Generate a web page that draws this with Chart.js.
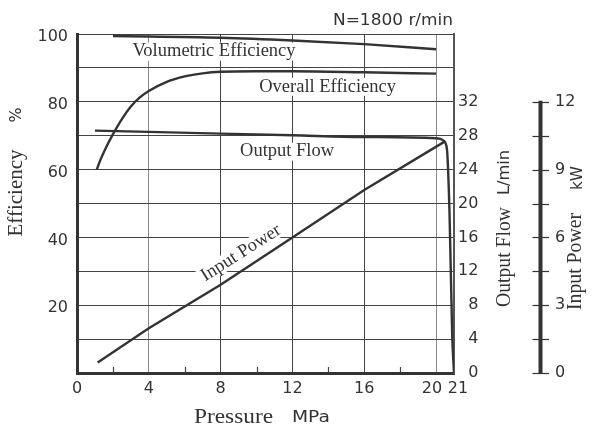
<!DOCTYPE html>
<html><head><meta charset="utf-8">
<script src="https://cdn.jsdelivr.net/npm/chart.js@4.4.0/dist/chart.umd.min.js"></script>
<style>html,body{margin:0;padding:0;background:#fff;}#wrap{width:592px;height:427px;}</style>
</head><body><div id="wrap"><canvas id="c" width="592" height="427"></canvas></div>
<script>
// ---- tick labels ----
const pressureTicks = [0, 4, 8, 12, 16, 20, 21];
const pressureMinorTicks = [2, 6, 10, 14, 18];
const efficiencyTicks = [20, 40, 60, 80, 100];
const flowTicks = [0, 4, 8, 12, 16, 20, 24, 28, 32];
const powerTicks = [0, 3, 6, 9, 12];
const powerMinorTicks = [1.5, 4.5, 7.5, 10.5];

// ---- series (x = pressure MPa) ----
const volPressure   = [2, 8, 12, 16, 20];
const volEfficiency = [99.4, 98.9, 98.1, 97.0, 95.5];

const overallPressure   = [1.1, 1.3, 1.5, 1.75, 2, 2.5, 3, 3.5, 4, 5, 6, 7, 8, 10, 12, 16, 20];
const overallEfficiency = [60, 62.8, 65.2, 67.9, 70.4, 74.9, 78.6, 81.3, 83.2, 85.9, 87.5, 88.4, 88.85, 89.0, 89.0, 88.7, 88.3];

const flowPressure = [1, 4, 8, 12, 16, 20, 20.4, 20.55, 20.63, 20.75, 20.9, 21];
const outputFlow   = [28.6, 28.45, 28.25, 28.05, 27.85, 27.7, 27.45, 27.0, 25.8, 18.9, 4.5, 0];

const powerPressure = [1.15, 4, 8, 12, 16, 20.5];
const inputPower    = [0.47, 1.98, 3.9, 6.0, 8.1, 10.25];

// ---- texts ----
const curveLabels = [
  {text: 'Volumetric Efficiency', x: 7.63, y: 94.8},
  {text: 'Overall Efficiency',    x: 13.96, y: 84.4},
  {text: 'Output Flow',           x: 11.7, y: 65.3},
];
const powerLabel = {text: 'Input Power', x: 9.14, y: 35.4};
const speedNote = 'N=1800 r/min';

const toXY = (xs, ys) => xs.map((v, i) => ({x: v, y: ys[i]}));
const INK = '#333';
const SERIF = '"Liberation Serif", "Times New Roman", serif';
const SANS = '"DejaVu Sans", sans-serif';

function fitText(ctx, text, font, cx, cy, width, angle) {
  ctx.save();
  ctx.font = font;
  ctx.textAlign = 'center';
  ctx.textBaseline = 'middle';
  ctx.fillStyle = INK;
  const w = ctx.measureText(text).width;
  ctx.translate(cx, cy);
  ctx.rotate(angle || 0);
  ctx.scale(width / w, 1);
  ctx.fillText(text, 0, 0);
  ctx.restore();
}

const extras = {
  id: 'extras',
  beforeDatasetsDraw(chart) {
    const ctx = chart.ctx;
    const {x, y, yPower} = chart.scales;
    ctx.save();
    // minor ticks on pressure axis
    ctx.strokeStyle = '#444';
    ctx.lineWidth = 1.2;
    pressureMinorTicks.forEach(v => {
      const px = Math.round(x.getPixelForValue(v)) + 0.5;
      ctx.beginPath(); ctx.moveTo(px, y.bottom); ctx.lineTo(px, y.bottom - 6); ctx.stroke();
    });
    // input power axis
    const ax = yPower.left + 9.5;
    ctx.strokeStyle = '#333';
    ctx.lineWidth = 4;
    ctx.beginPath();
    ctx.moveTo(ax, yPower.getPixelForValue(0) + 1);
    ctx.lineTo(ax, yPower.getPixelForValue(12) - 1);
    ctx.stroke();
    ctx.lineWidth = 1.2;
    powerTicks.concat(powerMinorTicks).forEach(v => {
      const py = Math.round(yPower.getPixelForValue(v)) + 0.5;
      ctx.beginPath(); ctx.moveTo(ax - 8, py); ctx.lineTo(ax + 8.5, py); ctx.stroke();
    });
    // curve labels with white background
    ctx.font = '18.5px ' + SERIF;
    ctx.textAlign = 'center';
    ctx.textBaseline = 'middle';
    curveLabels.forEach(l => {
      const cx = x.getPixelForValue(l.x), cy = y.getPixelForValue(l.y);
      const w = ctx.measureText(l.text).width;
      ctx.fillStyle = '#fff';
      ctx.fillRect(cx - w / 2 - 3, cy - 9, w + 6, 18);
      ctx.fillStyle = INK;
      ctx.fillText(l.text, cx, cy);
    });
    // rotated Input Power label, parallel to the power line
    const p0 = {x: x.getPixelForValue(powerPressure[0]), y: yPower.getPixelForValue(inputPower[0])};
    const n = powerPressure.length - 1;
    const p1 = {x: x.getPixelForValue(powerPressure[n]), y: yPower.getPixelForValue(inputPower[n])};
    const ang = Math.atan2(p1.y - p0.y, p1.x - p0.x);
    const cx = x.getPixelForValue(powerLabel.x), cy = y.getPixelForValue(powerLabel.y);
    ctx.translate(cx, cy);
    ctx.rotate(ang);
    const w = ctx.measureText(powerLabel.text).width;
    ctx.fillStyle = '#fff';
    ctx.fillRect(-w / 2 - 3, -9, w + 6, 17);
    ctx.fillStyle = INK;
    ctx.fillText(powerLabel.text, 0, 0);
    ctx.restore();
  },
  afterDraw(chart) {
    const ctx = chart.ctx;
    const R = -Math.PI / 2;
    fitText(ctx, speedNote, '16px ' + SANS, 393, 20.5, 120, 0);
    fitText(ctx, 'Efficiency', '20px ' + SERIF, 16.5, 193, 87, R);
    fitText(ctx, '%', '16px ' + SANS, 16.5, 115, 15, R);
    fitText(ctx, 'Pressure', '21px ' + SERIF, 233.5, 417.5, 79, 0);
    fitText(ctx, 'MPa', '16px ' + SANS, 311, 417.5, 38, 0);
    fitText(ctx, 'Output Flow', '20px ' + SERIF, 504.5, 257, 100, R);
    fitText(ctx, 'L/min', '16px ' + SANS, 505, 172.5, 45, R);
    fitText(ctx, 'Input Power', '20px ' + SERIF, 576, 261.5, 97, R);
    fitText(ctx, 'kW', '16px ' + SANS, 578, 178, 24, R);
  }
};

const lineStyle = {borderColor: '#333', borderWidth: 2.4, pointRadius: 0, fill: false, cubicInterpolationMode: 'monotone'};
const tickFont = {family: SANS, size: 16};

new Chart(document.getElementById('c'), {
  type: 'line',
  data: {
    datasets: [
      Object.assign({label: 'Volumetric Efficiency', data: toXY(volPressure, volEfficiency), yAxisID: 'y'}, lineStyle),
      Object.assign({label: 'Overall Efficiency', data: toXY(overallPressure, overallEfficiency), yAxisID: 'y'}, lineStyle),
      Object.assign({label: 'Output Flow', data: toXY(flowPressure, outputFlow), yAxisID: 'yFlow'}, lineStyle),
      Object.assign({label: 'Input Power', data: toXY(powerPressure, inputPower), yAxisID: 'yPower'}, lineStyle, {cubicInterpolationMode: 'default', tension: 0})
    ]
  },
  options: {
    responsive: false,
    animation: false,
    devicePixelRatio: 1,
    layout: {padding: {top: 34, right: 0, bottom: 0, left: 0}},
    plugins: {legend: {display: false}, tooltip: {enabled: false}},
    scales: {
      x: {
        type: 'linear', min: 0, max: 21,
        afterBuildTicks: s => { s.ticks = pressureTicks.map(v => ({value: v})); },
        afterFit: s => { s.height = 54; },
        ticks: {
          autoSkip: false, maxRotation: 0, padding: 6, font: tickFont, color: INK,
          callback: v => v === 20 ? '20\u2002' : (v === 21 ? '\u200221' : String(v))
        },
        grid: {
          drawTicks: false,
          color: c => { const v = c.tick ? c.tick.value : null; if (v === 0) return 'rgba(0,0,0,0)'; if (v === 4 || v === 20) return '#8a8a8a'; return '#444'; },
          lineWidth: c => (c.tick && c.tick.value === 21) ? 2 : 1
        },
        border: {color: '#333', width: 3}
      },
      y: {
        min: 0, max: 100,
        afterFit: s => { s.width = 77; },
        ticks: {stepSize: 10, padding: 9, labelOffset: 3, font: tickFont, color: INK,
          callback: v => efficiencyTicks.includes(v) ? String(v) : ''},
        grid: {drawTicks: false, color: c => (c.tick && c.tick.value === 0) ? 'rgba(0,0,0,0)' : '#444', lineWidth: 1},
        border: {color: '#333', width: 3}
      },
      yFlow: {
        position: 'right', min: 0, max: 40,
        afterBuildTicks: s => { s.ticks = flowTicks.map(v => ({value: v})); },
        afterFit: s => { s.width = 77; },
        ticks: {padding: 4, crossAlign: 'near', font: tickFont, color: INK,
          callback: v => (v < 10 ? '\u2007' : '') + v},
        grid: {display: false, drawTicks: false},
        border: {display: true, color: '#555', width: 2}
      },
      yPower: {
        position: 'right', min: 0, max: 15,
        afterBuildTicks: s => { s.ticks = powerTicks.map(v => ({value: v})); },
        afterFit: s => { s.width = 61; },
        ticks: {padding: 24, font: tickFont, color: INK},
        grid: {display: false, drawTicks: false},
        border: {display: false}
      }
    }
  },
  plugins: [extras]
});
</script>
</body></html>
